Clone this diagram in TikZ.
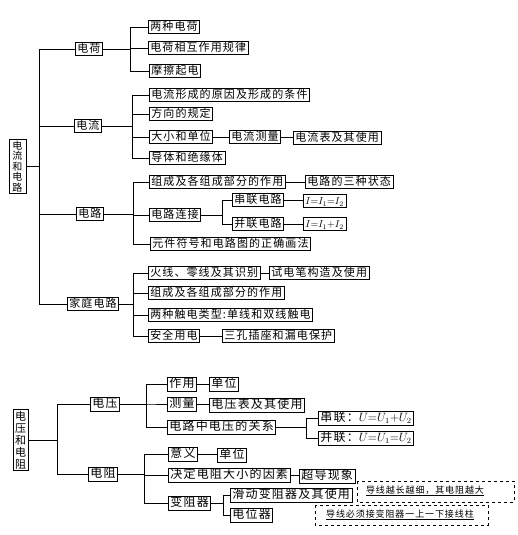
\documentclass[tikz,border=0pt]{standalone}
\usepackage{fontspec}
\newfontfamily\cjk[LetterSpace=10]{Noto Sans CJK SC}
\newfontfamily\cjkv{Noto Sans CJK SC}
\newcommand\tree[3]{\draw[conn] (#1.east) -- (#1.east -| #2) |- (#3.west);}
\newcommand\link[2]{\draw[conn] (#1.east) -- (#1.east -| #2.west);}
\begin{document}
\begin{tikzpicture}[x=1pt,y=-1pt,
  box/.style={draw, line width=0.7pt, anchor=west, inner xsep=2pt, inner ysep=0pt,
    minimum height=13pt, text height=9pt, text depth=2pt, font=\cjk\fontsize{11}{12}\selectfont},
  boxb/.style={box, minimum height=14pt, text height=9.6pt, text depth=2.2pt,
    font=\cjk\fontsize{12}{13}\selectfont},
  fbox/.style={box, font=\fontsize{10}{11}\selectfont},
  vbox/.style={draw, line width=0.7pt, align=center, inner sep=1.2pt},
  conn/.style={line width=0.9pt},
  dbox/.style={draw, dashed, line width=0.7pt},
  note/.style={font=\cjk\fontsize{9}{10}\selectfont, inner sep=0pt}]
\useasboundingbox (0,0) rectangle (517,535);
% ---------- top tree ----------
\node[vbox, font=\cjkv\fontsize{10}{10.6}\selectfont, minimum width=17pt, minimum height=53pt] (r1) at (17.5,166.5) {电\\流\\和\\电\\路};
\coordinate (s0) at (39,0);
\node[box] (dh) at (75,49) {电荷};
\coordinate (s1) at (130,0);
\node[box] (dh1) at (148,27) {两种电荷};
\node[box] (dh2) at (148,48) {电荷相互作用规律};
\node[box] (dh3) at (149,71) {摩擦起电};
\node[box] (dl) at (74,126) {电流};
\coordinate (s2) at (132,0);
\node[box] (dl1) at (149,95) {电流形成的原因及形成的条件};
\node[box] (dl2) at (149,114) {方向的规定};
\node[box] (dl3) at (149,137) {大小和单位};
\node[box] (dl3a) at (229,137) {电流测量};
\node[box] (dl3b) at (293,138) {电流表及其使用};
\node[box] (dl4) at (149,158) {导体和绝缘体};
\node[box] (lu) at (76,214) {电路};
\coordinate (s3) at (133,0);
\node[box] (lu1) at (149,182) {组成及各组成部分的作用};
\node[box] (lu1a) at (305,182) {电路的三种状态};
\node[box] (lu2) at (149,215) {电路连接};
\coordinate (s4) at (222,0);
\node[box] (lu2a) at (232,200) {串联电路};
\node[fbox] (lu2b) at (303,201) {$I{=}I_1{=}I_2$};
\node[box] (lu2c) at (232,224) {并联电路};
\node[fbox] (lu2d) at (303,224) {$I{=}I_1{+}I_2$};
\node[box] (lu3) at (150,244) {元件符号和电路图的正确画法};
\node[box] (jt) at (67,304) {家庭电路};
\coordinate (s5) at (133,0);
\node[box] (jt1) at (148,273) {火线、零线及其识别};
\node[box] (jt1a) at (269,273) {试电笔构造及使用};
\node[box] (jt2) at (148,293) {组成及各组成部分的作用};
\node[box] (jt3) at (148,315) {两种触电类型:单线和双线触电};
\node[box] (jt4) at (148,336) {安全用电};
\node[box] (jt4a) at (222,336) {三孔插座和漏电保护};
\tree{r1}{s0}{dh}\tree{r1}{s0}{dl}\tree{r1}{s0}{lu}\tree{r1}{s0}{jt}
\tree{dh}{s1}{dh1}\tree{dh}{s1}{dh2}\tree{dh}{s1}{dh3}
\tree{dl}{s2}{dl1}\tree{dl}{s2}{dl2}\tree{dl}{s2}{dl3}\tree{dl}{s2}{dl4}
\link{dl3}{dl3a}\link{dl3a}{dl3b}
\tree{lu}{s3}{lu1}\tree{lu}{s3}{lu2}\tree{lu}{s3}{lu3}
\link{lu1}{lu1a}
\tree{lu2}{s4}{lu2a}\tree{lu2}{s4}{lu2c}
\link{lu2a}{lu2b}\link{lu2c}{lu2d}
\tree{jt}{s5}{jt1}\tree{jt}{s5}{jt2}\tree{jt}{s5}{jt3}\tree{jt}{s5}{jt4}
\link{jt1}{jt1a}\link{jt4}{jt4a}
% ---------- bottom tree ----------
\node[vbox, font=\cjkv\fontsize{11}{12}\selectfont, minimum width=15pt, minimum height=60pt] (r2) at (20.5,440) {电\\压\\和\\电\\阻};
\coordinate (b0) at (57,0);
\node[boxb] (dy) at (90,404) {电压};
\coordinate (b1) at (146,0);
\node[boxb] (dy1) at (167,384) {作用};
\node[boxb] (dy1a) at (209,384) {单位};
\node[boxb] (dy2) at (167,404) {测量};
\node[boxb] (dy2a) at (209,405) {电压表及其使用};
\node[boxb] (dy3) at (167,427) {电路中电压的关系};
\coordinate (b2) at (306,0);
\node[boxb] (dy3a) at (318,418) {串联：$U{=}U_1{+}U_2$};
\node[boxb] (dy3b) at (318,438) {并联：$U{=}U_1{=}U_2$};
\node[boxb] (dz) at (88,474) {电阻};
\coordinate (b3) at (144,0);
\node[boxb] (dz1) at (168,454) {意义};
\node[boxb] (dz1a) at (217,455) {单位};
\node[boxb] (dz2) at (168,475) {决定电阻大小的因素};
\node[boxb] (dz2a) at (299,476) {超导现象};
\node[boxb] (dz3) at (168,503) {变阻器};
\coordinate (b4) at (223,0);
\node[boxb] (dz3a) at (230,495) {滑动变阻器及其使用};
\node[boxb] (dz3b) at (230,515) {电位器};
\tree{r2}{b0}{dy}\tree{r2}{b0}{dz}
\tree{dy}{b1}{dy1}\tree{dy}{b1}{dy2}\tree{dy}{b1}{dy3}
\link{dy1}{dy1a}\link{dy2}{dy2a}
\tree{dy3}{b2}{dy3a}\tree{dy3}{b2}{dy3b}
\tree{dz}{b3}{dz1}\tree{dz}{b3}{dz2}\tree{dz}{b3}{dz3}
\link{dz1}{dz1a}\link{dz2}{dz2a}
\tree{dz3}{b4}{dz3a}\tree{dz3}{b4}{dz3b}
% dashed notes
\draw[dbox] (357,481) rectangle (514,502);
\node[note] (n1) at (425,491) {\underline{导线越长越细，其电阻越大}};
\draw[dbox] (315,505) rectangle (488,525);
\node[note] (n2) at (400,515) {\underline{导线必须接变阻器一上一下接线柱}};
\end{tikzpicture}
\end{document}
